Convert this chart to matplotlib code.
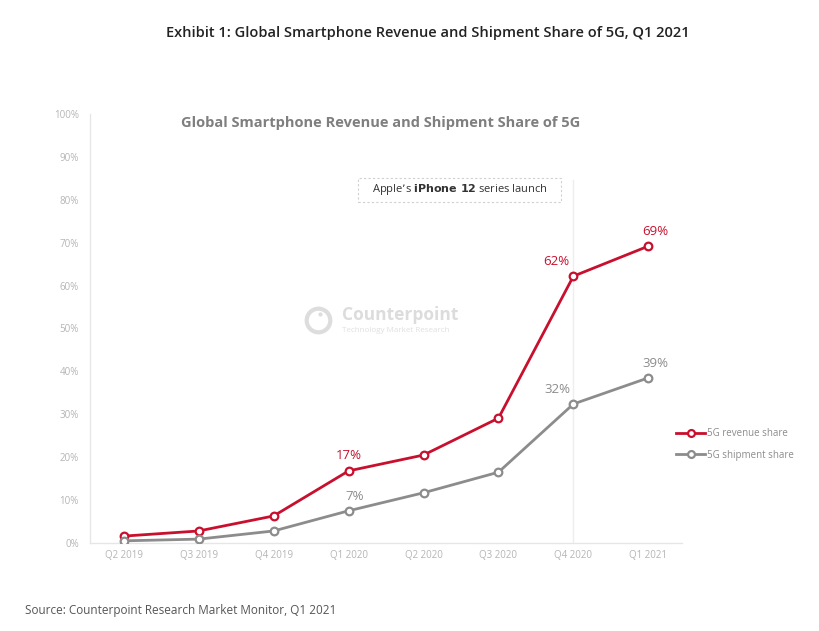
import matplotlib.pyplot as plt
from matplotlib.patches import Rectangle

quarters = ['Q2 2019', 'Q3 2019', 'Q4 2019', 'Q1 2020', 'Q2 2020', 'Q3 2020', 'Q4 2020', 'Q1 2021']
revenue = [1.6, 2.8, 6.3, 16.8, 20.5, 29.1, 62.2, 69.2]
shipment = [0.5, 0.9, 2.8, 7.5, 11.7, 16.5, 32.4, 38.5]
rev_labels = {3: '17%', 6: '62%', 7: '69%'}
ship_labels = {3: '7%', 6: '32%', 7: '39%'}
yticks = list(range(0, 101, 10))

# label nudges (x offset in category units)
rev_dx = {3: 0.0, 6: -0.23, 7: 0.09}
ship_dx = {3: 0.08, 6: -0.21, 7: 0.1}

red = '#c8102e'
grey = '#8c8c8c'
tick_col = '#b5b5b5'

fig = plt.figure(figsize=(8.2, 6.31), dpi=100)
fig.patch.set_facecolor('white')
ax = fig.add_axes([0.1098, 0.1395, 0.722, 0.6798])

x = list(range(len(quarters)))
ax.plot(x, revenue, color=red, lw=2, marker='o', ms=5.5, mfc='white', mec=red, mew=1.6,
        label='5G revenue share', zorder=3)
ax.plot(x, shipment, color=grey, lw=2, marker='o', ms=5.5, mfc='white', mec=grey, mew=1.6,
        label='5G shipment share', zorder=3)

ax.set_xlim(-0.45, 7.45)
ax.set_ylim(0, 100)
ax.set_xticks(x)
ax.set_xticklabels(quarters, fontsize=7, color=tick_col, family='Open Sans')
ax.set_yticks(yticks)
ax.set_yticklabels([f'{v}%' for v in yticks], fontsize=7, color=tick_col, family='Open Sans')
ax.tick_params(axis='x', length=0, pad=5)
ax.tick_params(axis='y', length=0, pad=8)
for s in ['top', 'right']:
    ax.spines[s].set_visible(False)
for s in ['left', 'bottom']:
    ax.spines[s].set_color('#e6e6e6')
    ax.spines[s].set_linewidth(1)

# launch marker
ax.axvline(6, ymin=0, ymax=0.846, color='#eeeeee', lw=1, zorder=1)
ax.add_patch(Rectangle((3.13, 79.4), 2.7, 5.8, fill=False, ls=(0, (2, 2)), ec='#d0d0d0', lw=0.8))
ax.text(4.48, 82.3, "Apple\u2019s $\\bf{iPhone\\ 12}$ series launch", ha='center', va='center',
        fontsize=8, color='#333333', family='Open Sans')

for i, t in rev_labels.items():
    ax.text(x[i] + rev_dx[i], revenue[i] + 2.0, t, ha='center', va='bottom', fontsize=9.5,
            color=red, family='Open Sans')
for i, t in ship_labels.items():
    ax.text(x[i] + ship_dx[i], shipment[i] + 1.8, t, ha='center', va='bottom', fontsize=9.5,
            color=grey, family='Open Sans')

ax.text(3.43, 98, 'Global Smartphone Revenue and Shipment Share of 5G', ha='center', va='center',
        fontsize=10.5, fontweight='bold', color='#7f7f7f', family='Open Sans')

# watermark
ax.plot([2.59], [52], marker='o', ms=17, mfc='none', mec='#dddddd', mew=3, zorder=0)
ax.plot([2.62], [53.3], marker='o', ms=3, mfc='#dddddd', mec='none', zorder=0)
ax.text(2.91, 53.2, 'Counterpoint', fontsize=12.5, fontweight='bold', color='#dcdcdc',
        va='center', family='Open Sans', zorder=0)
ax.text(2.91, 49.5, 'Technology Market Research', fontsize=5.8, color='#e0e0e0', va='center',
        family='Open Sans', zorder=0)

leg = ax.legend(loc='center left', bbox_to_anchor=(0.975, 0.23), frameon=False,
                handlelength=3.0, handletextpad=0.15, labelspacing=1.1, markerscale=0.9,
                prop={'family': 'Open Sans', 'size': 7})
for t in leg.get_texts():
    t.set_color('#8c8c8c')

fig.text(0.522, 0.948, 'Exhibit 1: Global Smartphone Revenue and Shipment Share of 5G, Q1 2021',
         ha='center', va='center', fontsize=10.5, fontweight='semibold', color='#222222',
         family='Open Sans')
fig.text(0.03, 0.033, 'Source: Counterpoint Research Market Monitor, Q1 2021', ha='left',
         va='center', fontsize=8.5, color='#555555', family='Open Sans')

fig.savefig('out.png', dpi=100)
